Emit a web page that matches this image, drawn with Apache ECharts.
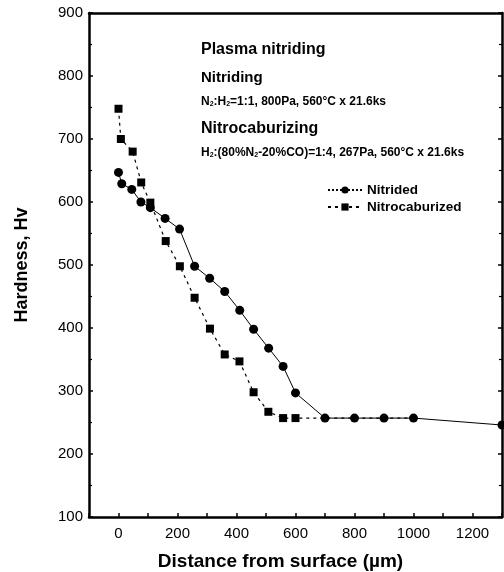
<!DOCTYPE html>
<html>
<head>
<meta charset="utf-8">
<script src="https://cdn.jsdelivr.net/npm/echarts@6/dist/echarts.min.js"></script>
<style>
  html, body { margin: 0; padding: 0; background: #fff; }
  #chart { width: 504px; height: 572px; }
</style>
</head>
<body>
<div id="chart"></div>
<script>
// Hardness profiles after plasma treatment
const nitridedDepth = [0, 11, 45, 76, 108, 158, 207, 258, 309, 360, 411, 458, 509, 558, 600, 700, 800, 900, 1000, 1300];
const nitridedHv    = [647, 629, 620, 600, 591, 574, 557, 498, 479, 458, 428, 398, 368, 339, 297, 257, 257, 257, 257, 246];

const carbDepth = [0, 8, 48, 77, 108, 160, 208, 258, 310, 360, 410, 458, 508, 558, 600, 700, 800, 900, 1000];
const carbHv    = [748, 700, 680, 631, 599, 538, 498, 448, 399, 358, 347, 298, 267, 257, 257, 257, 257, 257, 257];

const xTickLabels = ['0', '200', '400', '600', '800', '1000', '1200'];
const yTickLabels = ['100', '200', '300', '400', '500', '600', '700', '800', '900'];

const FONT = '"Liberation Sans", Arial, sans-serif';
const BLACK = '#000';

const nitridedData = nitridedDepth.map((x, i) => [x, nitridedHv[i]]);
// beyond 600 µm the nitrocarburized profile runs under the nitrided markers
const carbData = carbDepth.map((x, i) => ({
  value: [x, carbHv[i]],
  symbolSize: x > 600 ? 0 : 8
}));

const axisLine = { show: true, onZero: false, lineStyle: { color: BLACK, width: 2.5 } };
const tick = { show: true, inside: true, length: 4, lineStyle: { color: BLACK, width: 1.5 } };
const minorTick = { show: true, splitNumber: 2, length: 3, lineStyle: { color: BLACK, width: 1.2 } };

const chart = echarts.init(document.getElementById('chart'), null, { renderer: 'canvas' });

chart.setOption({
  animation: false,
  backgroundColor: '#fff',
  textStyle: { fontFamily: FONT },
  grid: { left: 89, right: 2, top: 13, bottom: 55, containLabel: false, outerBoundsMode: 'none' },
  legend: {
    orient: 'vertical',
    left: 322,
    top: 178,
    itemWidth: 34,
    itemHeight: 9,
    itemGap: 3,
    textStyle: { fontFamily: FONT, fontWeight: 'bold', fontSize: 13.5, color: BLACK },
    data: [
      { name: 'Nitrided', lineStyle: { type: 'dotted' } },
      { name: 'Nitrocaburized' }
    ]
  },
  xAxis: [
    {
      type: 'value',
      min: -100,
      max: 1300,
      interval: 100,
      axisLine: axisLine,
      axisTick: tick,
      splitLine: { show: false },
      axisLabel: {
        margin: 9,
        fontSize: 15,
        color: BLACK,
        fontFamily: FONT,
        formatter: v => xTickLabels.includes(String(v)) ? String(v) : ''
      },
      name: 'Distance from surface (\u00b5m)',
      nameLocation: 'middle',
      nameGap: 35,
      nameTextStyle: { fontFamily: FONT, fontWeight: 'bold', fontSize: 19, color: BLACK, padding: [0, 30, 0, 0] }
    },
    {
      type: 'value',
      position: 'top',
      min: -100,
      max: 1300,
      axisLine: axisLine,
      axisTick: { show: false },
      axisLabel: { show: false },
      splitLine: { show: false }
    }
  ],
  yAxis: [
    {
      type: 'value',
      min: 100,
      max: 900,
      interval: 100,
      axisLine: axisLine,
      axisTick: tick,
      minorTick: minorTick,
      splitLine: { show: false },
      axisLabel: {
        margin: 6,
        fontSize: 15,
        color: BLACK,
        fontFamily: FONT,
        formatter: v => yTickLabels.includes(String(v)) ? String(v) : ''
      },
      name: 'Hardness, Hv',
      nameLocation: 'middle',
      nameGap: 58,
      nameRotate: 90,
      nameTextStyle: { fontFamily: FONT, fontWeight: 'bold', fontSize: 18, color: BLACK }
    },
    {
      type: 'value',
      position: 'right',
      min: 100,
      max: 900,
      interval: 100,
      axisLine: axisLine,
      axisTick: tick,
      minorTick: minorTick,
      axisLabel: { show: false },
      splitLine: { show: false }
    }
  ],
  series: [
    {
      name: 'Nitrocaburized',
      type: 'line',
      data: carbData,
      symbol: 'rect',
      symbolSize: 8,
      clip: false,
      itemStyle: { color: BLACK },
      lineStyle: { color: BLACK, width: 1.2, type: [3, 4] }
    },
    {
      name: 'Nitrided',
      type: 'line',
      data: nitridedData,
      symbol: 'circle',
      symbolSize: 9,
      clip: false,
      itemStyle: { color: BLACK },
      lineStyle: { color: BLACK, width: 1 }
    }
  ],
  graphic: [
    {
      type: 'group',
      left: 201,
      top: 42,
      children: [
        { type: 'text', x: 0, y: 0, style: { text: 'Plasma nitriding', font: 'bold 16px ' + FONT, fill: BLACK } },
        { type: 'text', x: 0, y: 28, style: { text: 'Nitriding', font: 'bold 15px ' + FONT, fill: BLACK } },
        {
          type: 'text', x: 0, y: 54,
          style: {
            text: 'N{s|2}:H{s|2}=1:1, 800Pa, 560\u00b0C x 21.6ks',
            font: 'bold 12px ' + FONT, fill: BLACK,
            rich: { s: { fontSize: 7, fontWeight: 'bold', fontFamily: FONT, verticalAlign: 'bottom', padding: [5, 0, 0, 0] } }
          }
        },
        { type: 'text', x: 0, y: 79, style: { text: 'Nitrocaburizing', font: 'bold 16px ' + FONT, fill: BLACK } },
        {
          type: 'text', x: 0, y: 105,
          style: {
            text: 'H{s|2}:(80%N{s|2}-20%CO)=1:4, 267Pa, 560\u00b0C x 21.6ks',
            font: 'bold 12px ' + FONT, fill: BLACK,
            rich: { s: { fontSize: 7, fontWeight: 'bold', fontFamily: FONT, verticalAlign: 'bottom', padding: [5, 0, 0, 0] } }
          }
        }
      ]
    }
  ]
});
</script>
</body>
</html>
